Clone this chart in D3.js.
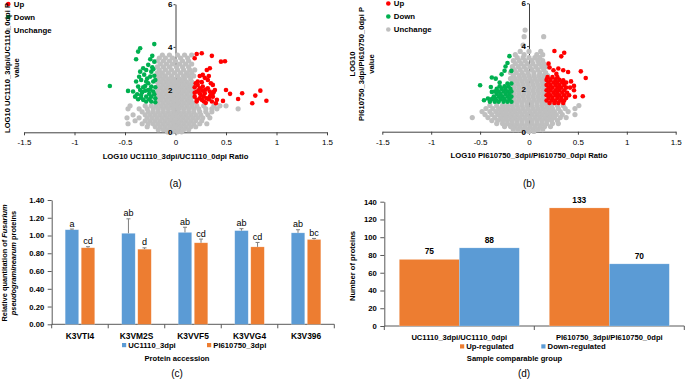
<!DOCTYPE html>
<html><head><meta charset="utf-8">
<script src="https://cdn.jsdelivr.net/npm/d3@7"></script>
<style>body{margin:0;background:#fff}svg{display:block}text{font-family:"Liberation Sans",Arial,sans-serif}</style>
</head><body><svg id="c" width="685" height="380"></svg>
<script>
// ---------------- DATA ----------------
const volcanoXTicks = [-1.5,-1,-0.5,0,0.5,1,1.5];
const volcanoYTicks = [0,2,4,6];
const legendLabels = ["Up","Down","Unchange"];

// Panel (a): UC1110_3dpi / UC1110_0dpi  [log10 ratio, -log10 p]
const upA = [[0.19,3.47],[0.21,3.67],[0.26,3.70],[0.36,3.58],[0.45,3.31],[0.49,3.33],
[0.31,2.92],[0.34,3.00],[0.24,2.64],[0.27,2.69],[0.32,2.45],[0.33,2.64],
[0.22,2.22],[0.24,2.06],[0.27,2.14],[0.32,2.06],[0.37,2.22],[0.39,1.98],
[0.21,1.91],[0.24,1.83],[0.29,1.83],[0.34,1.91],[0.19,1.67],[0.24,1.59],
[0.31,1.59],[0.37,1.67],[0.41,1.52],[0.21,1.44],[0.26,1.52],[0.36,1.44],
[0.40,1.36],[0.47,1.47],[0.50,1.98],[0.54,1.80],[0.62,1.56],[0.66,1.83],
[0.79,1.72],[0.84,1.95],[0.90,1.48],[0.76,1.36],[0.37,1.83],[0.34,1.67],
[0.28,1.67],[0.22,2.38],[0.19,2.11],[0.21,1.52],[0.20,2.30],[0.25,1.75],
[0.30,2.00],[0.35,1.76],[0.28,1.45],[0.23,1.95],[0.33,1.55],[0.38,1.90],
[0.26,2.35],[0.29,2.55],[0.19,1.85],[0.27,1.95],[0.35,2.30],[0.30,1.38]];
const downA = [[-0.65,2.17],[-0.47,1.94],[-0.37,3.78],[-0.35,3.94],[-0.39,3.42],[-0.21,4.13],
[-0.23,3.58],[-0.25,3.42],[-0.21,3.31],[-0.27,3.16],[-0.32,3.00],[-0.29,2.92],
[-0.35,2.84],[-0.24,2.84],[-0.25,2.61],[-0.34,2.45],[-0.29,2.38],[-0.22,2.38],
[-0.39,2.38],[-0.37,2.14],[-0.30,2.17],[-0.24,2.14],[-0.20,2.11],[-0.42,1.91],
[-0.35,1.98],[-0.27,1.98],[-0.22,1.91],[-0.40,1.67],[-0.34,1.75],[-0.29,1.67],
[-0.24,1.67],[-0.20,1.59],[-0.37,1.55],[-0.29,1.44],[-0.24,1.44],[-0.20,1.41],
[-0.32,1.52],[-0.26,1.80],[-0.32,2.11],[-0.27,2.30],[-0.21,2.65],[-0.23,3.05],
[-0.31,2.70],[-0.36,2.60],[-0.21,1.78],[-0.25,2.00],[-0.33,1.88],[-0.38,1.78],
[-0.22,2.95],[-0.28,2.52],[-0.20,2.45],[-0.34,1.62],[-0.26,1.55],[-0.30,1.95]];
// unchanged proteins, listed row by row: [pValueLevel, [ratios...]]
const grayARows = [
[3.62,[-0.13,-0.06,0.02,0.09,0.16]],
[3.48,[-0.16,-0.10,-0.03,0.05,0.12]],
[3.34,[-0.18,-0.12,-0.06,0.00,0.07,0.13]],
[3.20,[-0.15,-0.09,-0.03,0.04,0.10,0.16]],
[3.06,[-0.18,-0.12,-0.06,0.01,0.07,0.13]],
[2.92,[-0.16,-0.10,-0.04,0.02,0.08,0.14,0.19]],
[2.78,[-0.18,-0.13,-0.07,-0.01,0.05,0.11,0.16]],
[2.64,[-0.19,-0.15,-0.10,-0.04,0.02,0.08,0.13,0.18]],
[2.50,[-0.17,-0.12,-0.07,-0.02,0.04,0.09,0.15]],
[2.36,[-0.18,-0.14,-0.09,-0.04,0.01,0.06,0.11,0.16]],
[2.22,[-0.17,-0.12,-0.07,-0.02,0.03,0.08,0.13,0.17]],
[2.08,[-0.18,-0.14,-0.09,-0.04,0.01,0.06,0.11,0.15]],
[1.94,[-0.17,-0.12,-0.07,-0.02,0.03,0.08,0.13,0.17]],
[1.80,[-0.18,-0.14,-0.09,-0.04,0.01,0.06,0.11,0.16]],
[1.66,[-0.16,-0.12,-0.07,-0.02,0.03,0.08,0.13,0.17]],
[1.52,[-0.18,-0.14,-0.09,-0.04,0.01,0.06,0.11,0.15]],
[1.38,[-0.17,-0.12,-0.07,-0.02,0.03,0.08,0.13,0.17]],
[1.24,[-0.45,-0.30,-0.24,-0.19,-0.14,-0.09,-0.04,0.01,0.06,0.11,0.16,0.21,0.28,0.38,0.44,0.50]],
[1.10,[-0.47,-0.36,-0.28,-0.22,-0.17,-0.12,-0.07,-0.02,0.03,0.08,0.13,0.18,0.23,0.30,0.36,0.41,0.62]],
[0.96,[-0.33,-0.27,-0.22,-0.17,-0.12,-0.07,-0.02,0.03,0.08,0.13,0.18,0.24,0.30,0.36]],
[0.82,[-0.42,-0.30,-0.25,-0.20,-0.15,-0.10,-0.05,0.00,0.05,0.10,0.15,0.20,0.25,0.32]],
[0.68,[-0.48,-0.36,-0.28,-0.23,-0.18,-0.13,-0.08,-0.03,0.02,0.07,0.12,0.17,0.22,0.27,0.34]],
[0.54,[-0.40,-0.30,-0.25,-0.20,-0.15,-0.10,-0.05,0.00,0.05,0.10,0.15,0.20,0.26]],
[0.40,[-0.47,-0.33,-0.27,-0.22,-0.17,-0.12,-0.07,-0.02,0.03,0.08,0.13,0.18,0.24,0.31]],
[0.26,[-0.28,-0.20,-0.15,-0.10,-0.05,0.00,0.05,0.10,0.15,0.20]],
[0.12,[-0.17,-0.12,-0.07,-0.02,0.03,0.08,0.13]],
[0.02,[-0.08,-0.03,0.02,0.06]]];

// Panel (b): PI610750_3dpi / PI610750_0dpi
const upB = [[0.26,3.77],[0.36,3.69],[0.33,3.52],[0.20,3.18],[0.25,2.87],[0.30,2.95],[0.35,2.87],
[0.40,2.79],[0.53,2.82],[0.58,2.51],[0.46,2.14],[0.47,1.63],[0.46,1.94],[0.55,1.66],[0.35,2.40],
[0.21,3.00],[0.28,2.70],[0.43,2.35],
[0.19,2.55],[0.24,2.55],[0.29,2.55],
[0.18,2.42],[0.22,2.42],[0.27,2.42],[0.31,2.42],
[0.20,2.30],[0.25,2.30],[0.29,2.30],[0.34,2.30],[0.38,2.30],
[0.18,2.18],[0.22,2.18],[0.27,2.18],[0.31,2.18],[0.36,2.18],
[0.20,2.06],[0.24,2.06],[0.29,2.06],[0.33,2.06],[0.38,2.06],[0.42,2.06],
[0.18,1.94],[0.22,1.94],[0.27,1.94],[0.31,1.94],[0.36,1.94],
[0.20,1.82],[0.25,1.82],[0.29,1.82],[0.34,1.82],[0.39,1.82],
[0.18,1.70],[0.22,1.70],[0.27,1.70],[0.31,1.70],[0.36,1.70],[0.41,1.70],
[0.20,1.58],[0.24,1.58],[0.29,1.58],[0.33,1.58],[0.38,1.58],
[0.18,1.46],[0.23,1.46],[0.27,1.46],[0.32,1.46],[0.36,1.46],
[0.21,1.34],[0.26,1.34],[0.30,1.34],[0.35,1.34]];
const downB = [[-0.50,2.17],[-0.20,3.53],[-0.22,3.21],[-0.24,3.05],[-0.18,2.84],[-0.28,2.68],
[-0.34,2.48],[-0.38,2.53],[-0.39,2.09],[-0.38,1.86],[-0.46,1.47],[-0.25,2.85],[-0.30,2.30],[-0.42,1.55],
[-0.22,2.25],[-0.18,2.25],
[-0.30,2.12],[-0.25,2.12],[-0.21,2.12],
[-0.33,2.00],[-0.28,2.00],[-0.24,2.00],[-0.19,2.00],
[-0.35,1.88],[-0.31,1.88],[-0.26,1.88],[-0.22,1.88],[-0.18,1.88],
[-0.33,1.76],[-0.29,1.76],[-0.24,1.76],[-0.20,1.76],
[-0.36,1.64],[-0.31,1.64],[-0.27,1.64],[-0.22,1.64],[-0.18,1.64],
[-0.38,1.52],[-0.34,1.52],[-0.29,1.52],[-0.25,1.52],[-0.20,1.52],
[-0.40,1.40],[-0.35,1.40],[-0.31,1.40],[-0.26,1.40],[-0.22,1.40],[-0.18,1.40]];
const grayBRows = [
[4.75,[-0.04]],
[4.44,[-0.05,0.15]],
[4.05,[-0.06]],
[3.75,[-0.09,0.00,0.12]],
[3.60,[-0.14,-0.05,0.08,0.14]],
[3.46,[-0.12,-0.06,0.00,0.06,0.11]],
[3.32,[-0.16,-0.10,-0.04,0.03,0.09,0.14]],
[3.18,[-0.14,-0.08,-0.02,0.04,0.10,0.15]],
[3.04,[-0.17,-0.11,-0.05,0.01,0.07,0.13,0.18]],
[2.90,[-0.15,-0.09,-0.03,0.03,0.09,0.15]],
[2.76,[-0.19,-0.13,-0.07,-0.01,0.05,0.11,0.17]],
[2.62,[-0.16,-0.10,-0.05,0.00,0.05,0.10,0.15,0.19]],
[2.48,[-0.19,-0.14,-0.09,-0.04,0.01,0.06,0.11,0.16]],
[2.34,[-0.17,-0.12,-0.07,-0.02,0.03,0.08,0.13,0.17]],
[2.20,[-0.16,-0.11,-0.06,-0.01,0.04,0.09,0.14]],
[2.06,[-0.15,-0.10,-0.05,0.00,0.05,0.10,0.15]],
[1.92,[-0.16,-0.11,-0.06,-0.01,0.04,0.09,0.14]],
[1.78,[-0.15,-0.10,-0.05,0.00,0.05,0.10,0.15]],
[1.64,[-0.16,-0.11,-0.06,-0.01,0.04,0.09,0.14]],
[1.50,[-0.15,-0.10,-0.05,0.00,0.05,0.10,0.15]],
[1.36,[-0.17,-0.12,-0.07,-0.02,0.03,0.08,0.13,0.17]],
[1.22,[-0.40,-0.33,-0.27,-0.22,-0.17,-0.12,-0.07,-0.02,0.03,0.08,0.13,0.18,0.23,0.29,0.35,0.51]],
[1.08,[-0.44,-0.37,-0.31,-0.26,-0.21,-0.16,-0.11,-0.06,-0.01,0.04,0.09,0.14,0.19,0.24,0.30,0.37,0.47]],
[0.94,[-0.48,-0.40,-0.34,-0.29,-0.24,-0.19,-0.14,-0.09,-0.04,0.01,0.06,0.11,0.16,0.21,0.26,0.32,0.40]],
[0.80,[-0.45,-0.38,-0.32,-0.27,-0.22,-0.17,-0.12,-0.07,-0.02,0.03,0.08,0.13,0.18,0.23,0.28,0.34,0.47]],
[0.66,[-0.58,-0.42,-0.35,-0.29,-0.24,-0.19,-0.14,-0.09,-0.04,0.01,0.06,0.11,0.16,0.21,0.26,0.32,0.38]],
[0.52,[-0.38,-0.32,-0.27,-0.22,-0.17,-0.12,-0.07,-0.02,0.03,0.08,0.13,0.18,0.23,0.29]],
[0.38,[-0.33,-0.27,-0.22,-0.17,-0.12,-0.07,-0.02,0.03,0.08,0.13,0.18,0.24,0.30]],
[0.24,[-0.25,-0.19,-0.14,-0.09,-0.04,0.01,0.06,0.11,0.16,0.22]],
[0.10,[-0.16,-0.11,-0.06,-0.01,0.04,0.09,0.14]],
[0.01,[-0.05,0.00,0.05]]];

// Panel (c)
const cCategories = ["K3VTI4","K3VM2S","K3VVF5","K3VVG4","K3V396"];
const cSeries = ["UC1110_3dpi","PI610750_3dpi"];
const cUC = [1.065,1.025,1.035,1.055,1.030];
const cPI = [0.862,0.846,0.918,0.872,0.955];
const cUCerr = [0.008,0.163,0.058,0.022,0.035];
const cPIerr = [0.012,0.015,0.042,0.050,0.012];
const cUCletters = ["a","ab","ab","ab","ab"];
const cPIletters = ["cd","d","cd","cd","bc"];
const cYTicks = [0,0.2,0.4,0.6,0.8,1.0,1.2,1.4];

// Panel (d)
const dGroups = ["UC1110_3dpi/UC1110_0dpi","PI610750_3dpi/PI610750_0dpi"];
const dSeries = ["Up-regulated","Down-regulated"];
const dUp = [75,133];
const dDown = [88,70];
const dYTicks = [0,20,40,60,80,100,120,140];

// ---------------- DRAWING ----------------
const RED="#FF0000", GREEN="#00B050", GRAY="#BFBFBF", BLUE="#5B9BD5", ORANGE="#ED7D31";
const AX="#404040";
const svg = d3.select("#c");
const flat = rows => rows.flatMap(([y,xs]) => xs.map(x => [x,y]));
const fmtX = d => String(d);

function volcano(o){
  const g = svg.append("g");
  const x = d3.scaleLinear().domain([-1.5,1.5]).range([o.x0,o.x1]);
  const y = d3.scaleLinear().domain([0,6]).range([o.y0,o.y1]);
  const xAxis = d3.axisBottom(x).tickValues(volcanoXTicks).tickSize(3).tickSizeOuter(0).tickFormat(fmtX);
  const yAxis = d3.axisLeft(y).tickValues(volcanoYTicks).tickSize(2).tickSizeOuter(0).tickPadding(1).tickFormat(fmtX);
  const gx = g.append("g").attr("transform",`translate(0,${y(0)})`).call(xAxis);
  const gy = g.append("g").attr("transform",`translate(${x(0)},0)`).call(yAxis);
  [gx,gy].forEach(a=>{a.selectAll("path,line").attr("stroke",AX); a.selectAll("text").remove();});
  const pts = [[flat(o.gray),GRAY,2.6],[o.down,GREEN,2.3],[o.up,RED,2.3]];
  pts.forEach(([arr,col,r])=>{
    g.append("g").selectAll("circle").data(arr).join("circle")
      .attr("cx",d=>x(d[0])).attr("cy",d=>y(d[1])).attr("r",r).attr("fill",col);
  });
  // labels on top
  const lx = g.append("g").attr("transform",`translate(0,${y(0)})`).call(xAxis);
  lx.selectAll("path,line").remove();
  lx.selectAll("text").attr("font-size",8).attr("fill","#000").attr("font-family","Liberation Sans, Arial").attr("dy","0.9em");
  const ly = g.append("g").attr("transform",`translate(${x(0)},0)`).call(yAxis);
  ly.selectAll("path,line").remove();
  ly.selectAll("text").attr("font-size",8).attr("font-weight","bold").attr("fill","#000").attr("font-family","Liberation Sans, Arial");
  // legend
  const cols=[RED,GREEN,GRAY];
  legendLabels.forEach((t,i)=>{
    const cy = o.legY + i*13;
    g.append("circle").attr("cx",o.legX).attr("cy",cy).attr("r",2.3).attr("fill",cols[i]);
    g.append("text").attr("x",o.legX+5.5).attr("y",cy+2.8).attr("font-size",7.8).attr("font-weight","bold").text(t);
  });
  // x title
  g.append("text").attr("x",x(0)).attr("y",o.y0+26.5).attr("text-anchor","middle")
    .attr("font-size",7.7).attr("font-weight","bold").text(o.xTitle);
  // y title
  o.yTitle.forEach((t,i)=>{
    g.append("text").attr("transform",`translate(${o.yTitleX[i]},${o.yTitleY}) rotate(-90)`)
      .attr("text-anchor","middle").attr("font-size",7.6).attr("font-weight","bold").text(t);
  });
  g.append("text").attr("x",x(0)).attr("y",186.5).attr("text-anchor","middle").attr("font-size",10).text(o.tag);
}

volcano({x0:24,x1:327,y0:132.3,y1:4.2,up:upA,down:downA,gray:grayARows,legX:8.3,legY:4,
  xTitle:"LOG10 UC1110_3dpi/UC1110_0dpi Ratio",
  yTitle:["LOG10 UC1110_3dpi/UC1110_0dpi P","value"],yTitleX:[9.6,18.8],yTitleY:68,tag:"(a)"});
volcano({x0:382.3,x1:675.7,y0:131.7,y1:3.3,up:upB,down:downB,gray:grayBRows,legX:388.3,legY:3.5,
  xTitle:"LOG10 PI610750_3dpi/PI610750_0dpi Ratio",
  yTitle:["LOG10","PI610750_3dpi/PI610750_0dpi P","value"],yTitleX:[354.5,364,373.5],yTitleY:64,tag:"(b)"});

// ---------- panel (c) ----------
(function(){
  const g = svg.append("g");
  const x = d3.scaleBand().domain(cCategories).range([51.7,334.3]);
  const x1 = d3.scaleBand().domain(cSeries).range([0,x.bandwidth()]).paddingInner(0.16).paddingOuter(0.84);
  const y = d3.scaleLinear().domain([0,1.4]).range([324.3,200]);
  const gy = g.append("g").attr("transform","translate(51.7,0)")
    .call(d3.axisLeft(y).tickValues(cYTicks).tickSize(4).tickSizeOuter(0).tickPadding(3.5).tickFormat(d3.format(".2f")));
  gy.selectAll("path,line").attr("stroke","#595959");
  gy.selectAll("text").attr("font-size",7.7).attr("font-weight","bold").attr("fill","#000").attr("font-family","Liberation Sans, Arial");
  // x axis line + boundary ticks
  const bounds = cCategories.map(c=>x(c)).concat([x.range()[1]]);
  g.append("line").attr("x1",x.range()[0]).attr("x2",x.range()[1]).attr("y1",y(0)).attr("y2",y(0)).attr("stroke","#595959");
  g.selectAll(".bt").data(bounds).join("line").attr("x1",d=>d).attr("x2",d=>d).attr("y1",y(0)).attr("y2",y(0)+4).attr("stroke","#595959");
  g.selectAll(".cl").data(cCategories).join("text").attr("x",d=>x(d)+x.bandwidth()/2).attr("y",y(0)+14.5)
    .attr("text-anchor","middle").attr("font-size",8.4).attr("font-weight","bold").text(d=>d);
  const series = [[cUC,cUCerr,cUCletters,BLUE,cSeries[0]],[cPI,cPIerr,cPIletters,ORANGE,cSeries[1]]];
  series.forEach(([vals,errs,lets,col,s])=>{
    const data = cCategories.map((c,i)=>({c,v:vals[i],e:errs[i],l:lets[i]}));
    const bx = d=>x(d.c)+x1(s);
    g.append("g").selectAll("rect").data(data).join("rect")
      .attr("x",bx).attr("width",x1.bandwidth()).attr("y",d=>y(d.v)).attr("height",d=>y(0)-y(d.v))
      .attr("fill",col).attr("stroke","#fff").attr("stroke-opacity",0.35).attr("stroke-width",0.6);
    const eg = g.append("g").attr("stroke","#7f7f7f").attr("stroke-width",1);
    eg.selectAll(".v").data(data).join("line").attr("x1",d=>bx(d)+x1.bandwidth()/2).attr("x2",d=>bx(d)+x1.bandwidth()/2)
      .attr("y1",d=>y(d.v)).attr("y2",d=>y(d.v+d.e));
    eg.selectAll(".h").data(data).join("line").attr("x1",d=>bx(d)+x1.bandwidth()/2-2).attr("x2",d=>bx(d)+x1.bandwidth()/2+2)
      .attr("y1",d=>y(d.v+d.e)).attr("y2",d=>y(d.v+d.e));
    g.append("g").selectAll("text").data(data).join("text").attr("x",d=>bx(d)+x1.bandwidth()/2).attr("y",d=>y(d.v+d.e)-2.5)
      .attr("text-anchor","middle").attr("font-size",9).text(d=>d.l);
  });
  // legend
  const lg = [[BLUE,cSeries[0],122],[ORANGE,cSeries[1],207]];
  lg.forEach(([col,t,lx])=>{
    g.append("rect").attr("x",lx).attr("y",343).attr("width",4.2).attr("height",4.2).attr("fill",col);
    g.append("text").attr("x",lx+6.3).attr("y",347.9).attr("font-size",7.7).attr("font-weight","bold").text(t);
  });
  g.append("text").attr("x",177).attr("y",360.8).attr("text-anchor","middle").attr("font-size",7.6).attr("font-weight","bold").text("Protein accession");
  const t1 = g.append("text").attr("transform","translate(6.6,263) rotate(-90)").attr("text-anchor","middle").attr("font-size",7.4).attr("font-weight","bold");
  t1.append("tspan").text("Relative quantitation of ");
  t1.append("tspan").attr("font-style","italic").text("Fusarium");
  const t2 = g.append("text").attr("transform","translate(16,263) rotate(-90)").attr("text-anchor","middle").attr("font-size",7.4).attr("font-weight","bold");
  t2.append("tspan").attr("font-style","italic").text("pseudograminearum");
  t2.append("tspan").text(" proteins");
  g.append("text").attr("x",177).attr("y",376.5).attr("text-anchor","middle").attr("font-size",10).text("(c)");
})();

// ---------- panel (d) ----------
(function(){
  const g = svg.append("g");
  const x = d3.scaleBand().domain(dGroups).range([384.3,684.3]);
  const x1 = d3.scaleBand().domain(dSeries).range([0,x.bandwidth()]).paddingInner(0).paddingOuter(0.25);
  const y = d3.scaleLinear().domain([0,140]).range([326,201.7]);
  const gy = g.append("g").attr("transform","translate(384.3,0)")
    .call(d3.axisLeft(y).tickValues(dYTicks).tickSize(4).tickSizeOuter(0).tickPadding(3.5));
  gy.selectAll("path,line").attr("stroke","#595959");
  gy.selectAll("text").attr("font-size",7.7).attr("font-weight","bold").attr("fill","#000").attr("font-family","Liberation Sans, Arial");
  const bounds = dGroups.map(c=>x(c)).concat([x.range()[1]]);
  g.append("line").attr("x1",x.range()[0]).attr("x2",x.range()[1]).attr("y1",y(0)).attr("y2",y(0)).attr("stroke","#595959");
  g.selectAll(".bt").data(bounds).join("line").attr("x1",d=>d).attr("x2",d=>d).attr("y1",y(0)).attr("y2",y(0)+4).attr("stroke","#595959");
  g.selectAll(".cl").data(dGroups).join("text").attr("x",d=>x(d)+x.bandwidth()/2).attr("y",y(0)+13.5)
    .attr("text-anchor","middle").attr("font-size",7.6).attr("font-weight","bold").text(d=>d);
  const series = [[dUp,ORANGE,dSeries[0]],[dDown,BLUE,dSeries[1]]];
  series.forEach(([vals,col,s])=>{
    const data = dGroups.map((c,i)=>({c,v:vals[i]}));
    const bx = d=>x(d.c)+x1(s);
    g.append("g").selectAll("rect").data(data).join("rect")
      .attr("x",bx).attr("width",x1.bandwidth()).attr("y",d=>y(d.v)).attr("height",d=>y(0)-y(d.v))
      .attr("fill",col).attr("stroke","#fff").attr("stroke-opacity",0.35).attr("stroke-width",0.6);
    g.append("g").selectAll("text").data(data).join("text").attr("x",d=>bx(d)+x1.bandwidth()/2).attr("y",d=>y(d.v)-5)
      .attr("text-anchor","middle").attr("font-size",8.4).attr("font-weight","bold").text(d=>d.v);
  });
  const lg = [[ORANGE,dSeries[0],460],[BLUE,dSeries[1],541.3]];
  lg.forEach(([col,t,lx])=>{
    g.append("rect").attr("x",lx).attr("y",344.3).attr("width",4.2).attr("height",4.2).attr("fill",col);
    g.append("text").attr("x",lx+6.3).attr("y",349.2).attr("font-size",7.7).attr("font-weight","bold").text(t);
  });
  g.append("text").attr("x",514.5).attr("y",361.3).attr("text-anchor","middle").attr("font-size",7.6).attr("font-weight","bold").text("Sample comparable group");
  g.append("text").attr("transform","translate(355,266) rotate(-90)").attr("text-anchor","middle").attr("font-size",7.6).attr("font-weight","bold").text("Number of proteins");
  g.append("text").attr("x",524).attr("y",376.5).attr("text-anchor","middle").attr("font-size",10).text("(d)");
})();
</script></body></html>
